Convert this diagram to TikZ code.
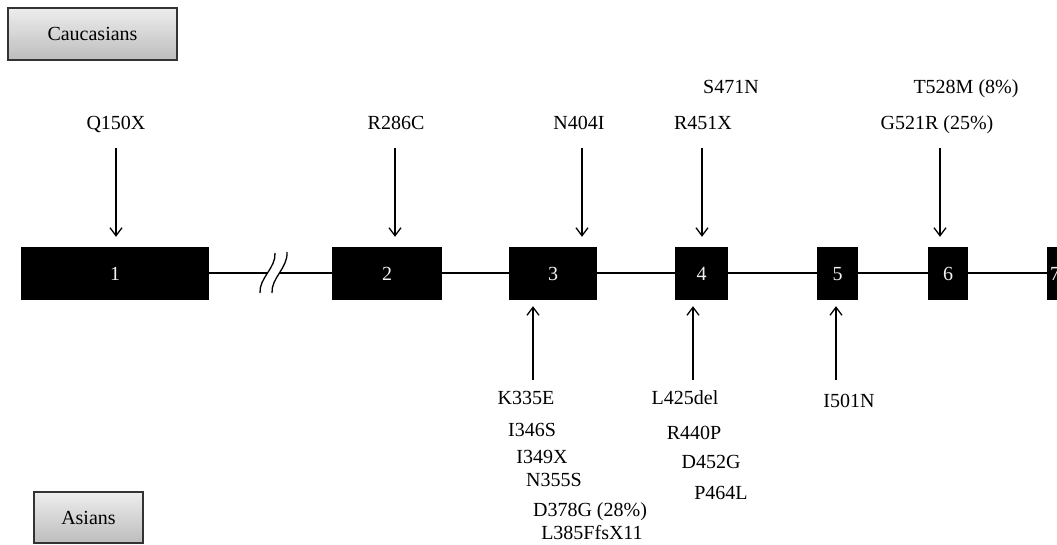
\documentclass[tikz,border=0pt]{standalone}
\usepackage{fontspec}
\setmainfont{Liberation Serif}
\usetikzlibrary{arrows.meta}
\tikzset{
  lbl/.style={font=\fontsize{20}{24}\selectfont, text height=13.2pt, text depth=0pt, inner sep=0pt},
  exon/.style={fill=black, draw=none, inner sep=0pt, minimum height=53pt, text=black!5,
    font=\fontsize{20}{24}\selectfont, text height=13.6pt, text depth=0pt},
  popbox/.style={draw=black!80, line width=1.5pt, top color=black!7, bottom color=black!26,
    inner sep=0pt, font=\fontsize{20}{24}\selectfont, text height=13.2pt, text depth=0pt},
  arr/.style={line width=1.3pt, -{Straight Barb[length=8pt,width=12pt]}},
  intron/.style={line width=2pt},
  brk/.style={line width=1.3pt}
}
\begin{document}
\begin{tikzpicture}[x=1pt,y=-1pt]
\clip (0,0) rectangle (1057,545);
\fill[white] (0,0) rectangle (1057,545);

% population boxes
\node[popbox, minimum width=169pt, minimum height=52pt] (cau) at (92.5,34) {Caucasians};
\node[popbox, minimum width=109pt, minimum height=51pt] (asi) at (88.5,517.5) {Asians};

% exons
\node[exon, minimum width=188pt] (e1) at (115,273.5) {1};
\node[exon, minimum width=110pt] (e2) at (387,273.5) {2};
\node[exon, minimum width=88pt]  (e3) at (553,273.5) {3};
\node[exon, minimum width=53pt]  (e4) at (701.5,273.5) {4};
\node[exon, minimum width=41pt]  (e5) at (837.5,273.5) {5};
\node[exon, minimum width=40pt]  (e6) at (948,273.5) {6};
\node[exon, minimum width=16pt]  (e7) at (1055,273.5) {7};

% introns
\draw[intron] (e1.east) -- (e2.west);
\draw[intron] (e2.east) -- (e3.west);
\draw[intron] (e3.east) -- (e4.west);
\draw[intron] (e4.east) -- (e5.west);
\draw[intron] (e5.east) -- (e6.west);
\draw[intron] (e6.east) -- (e7.west);

% break symbol
\coordinate (bl1) at (260,293); \coordinate (bl2) at (275,253);
\coordinate (br1) at (272,293); \coordinate (br2) at (287,252);
\fill[white] (bl1) .. controls (259,278) and (276,268) .. (bl2) -- (br2)
  .. controls (288,268) and (271,278) .. (br1) -- cycle;
\draw[brk] (bl1) .. controls (259,278) and (276,268) .. (bl2);
\draw[brk] (br1) .. controls (271,278) and (288,268) .. (br2);

% Caucasian mutations (top)
\node[lbl] (q150x) at (116,123) {Q150X};
\node[lbl] (r286c) at (396,123) {R286C};
\node[lbl] (n404i) at (579,123) {N404I};
\node[lbl] (r451x) at (703,123) {R451X};
\node[lbl] (s471n) at (731,87) {S471N};
\node[lbl] (g521r) at (937,123) {G521R (25\%)};
\node[lbl] (t528m) at (966,87) {T528M (8\%)};

\coordinate (t1) at (116,148);
\coordinate (t2) at (395,148);
\coordinate (t3) at (582,148);
\coordinate (t4) at (702,148);
\coordinate (t6) at (940,148);
\draw[arr, shorten >=10pt] (t1) -- (t1 |- e1.north);
\draw[arr, shorten >=10pt] (t2) -- (t2 |- e2.north);
\draw[arr, shorten >=10pt] (t3) -- (t3 |- e3.north);
\draw[arr, shorten >=10pt] (t4) -- (t4 |- e4.north);
\draw[arr, shorten >=10pt] (t6) -- (t6 |- e6.north);

% Asian mutations (bottom)
\coordinate (b3) at (533,380);
\coordinate (b4) at (693,380);
\coordinate (b5) at (836,380);
\draw[arr, shorten >=6pt] (b3) -- (b3 |- e3.south);
\draw[arr, shorten >=6pt] (b4) -- (b4 |- e4.south);
\draw[arr, shorten >=6pt] (b5) -- (b5 |- e5.south);

\node[lbl] (k335e) at (526,398) {K335E};
\node[lbl] (i346s) at (532,430) {I346S};
\node[lbl] (i349x) at (542,457) {I349X};
\node[lbl] (n355s) at (554,480) {N355S};
\node[lbl] (d378g) at (590,510) {D378G (28\%)};
\node[lbl] (l385f) at (592,533) {L385FfsX11};
\node[lbl] (l425d) at (685,398) {L425del};
\node[lbl] (r440p) at (694,433) {R440P};
\node[lbl] (d452g) at (711,462) {D452G};
\node[lbl] (p464l) at (721,493) {P464L};
\node[lbl] (i501n) at (849,401) {I501N};
\end{tikzpicture}
\end{document}
